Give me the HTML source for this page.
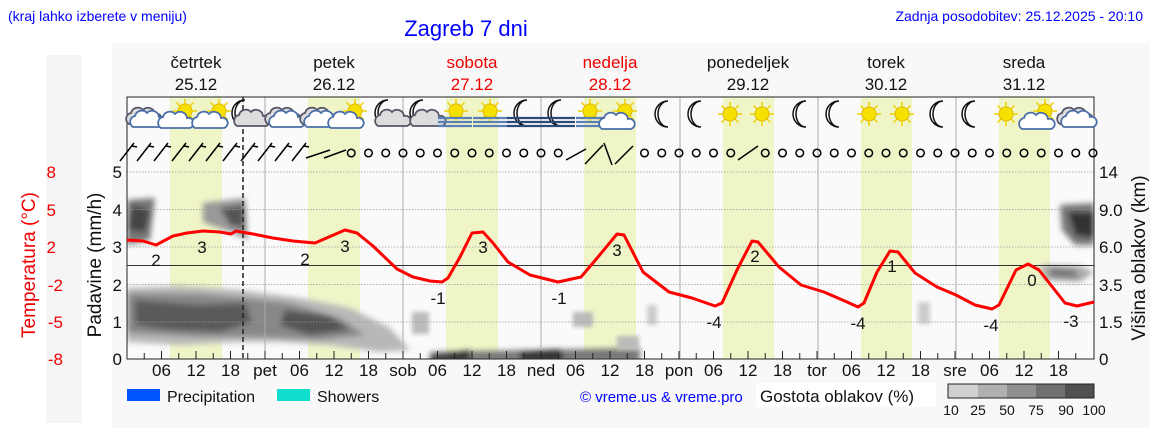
<!DOCTYPE html>
<html><head><meta charset="utf-8"><style>
body{margin:0;background:#fff;}
svg{display:block;font-family:"Liberation Sans","DejaVu Sans",sans-serif;}
</style></head><body>
<svg width="1152" height="443" viewBox="0 0 1152 443" xmlns="http://www.w3.org/2000/svg">
<defs>
<filter id="bl" x="-30%" y="-30%" width="160%" height="160%"><feGaussianBlur stdDeviation="3"/></filter>
<filter id="bl2" x="-30%" y="-30%" width="160%" height="160%"><feGaussianBlur stdDeviation="2"/></filter>
<clipPath id="pc"><rect x="127" y="97" width="967" height="262"/></clipPath>
<g id="sun"><g stroke="#f0d000" stroke-width="1.5"><line x1="-12" y1="0" x2="12" y2="0"/><line x1="0" y1="-12" x2="0" y2="12"/><line x1="-8.5" y1="-8.5" x2="8.5" y2="8.5"/><line x1="-8.5" y1="8.5" x2="8.5" y2="-8.5"/></g><circle r="7" fill="#f5e000" stroke="#e0b800"/></g>
<g id="cl"><path d="M-15,6 a6,6 0 0 1 2,-11 a7,7 0 0 1 12,-3 a7,7 0 0 1 12,4 a5,5 0 0 1 3,10 z" fill="#fff" stroke="#4a6fa8" stroke-width="1.8"/></g>
<g id="gcl"><path d="M-15,6 a6,6 0 0 1 2,-11 a7,7 0 0 1 12,-3 a7,7 0 0 1 12,4 a5,5 0 0 1 3,10 z" fill="#ddd" stroke="#556" stroke-width="1.8"/></g>
<g id="moon"><path d="M3,-13 a13,13 0 1 0 0,26 a10,13 0 0 1 0,-26 z" fill="#fff" stroke="#111" stroke-width="1.5"/></g>
<g id="fog" stroke="#5a7fb5" stroke-width="2.2"><line x1="-17" y1="3" x2="17" y2="3"/><line x1="-17" y1="7" x2="17" y2="7"/><line x1="-17" y1="11" x2="17" y2="11"/></g>
<g id="fogd" stroke="#2a4a78" stroke-width="2.2"><line x1="-17" y1="3" x2="17" y2="3"/><line x1="-17" y1="7" x2="17" y2="7"/><line x1="-17" y1="11" x2="17" y2="11"/></g>
<g id="barb" stroke="#000" stroke-width="1.5" fill="none"><line x1="-7" y1="9" x2="7" y2="-9"/><line x1="5" y1="-6" x2="10" y2="-5"/></g>
</defs>
<rect x="46" y="55" width="36" height="368" fill="#f5f5f5"/>
<rect x="112" y="43" width="1038" height="385" fill="#f8f8f8"/>
<rect x="127" y="97" width="967" height="262" fill="#fafafa"/>
<g fill="#f0f5c8">
<rect x="170" y="97" width="52" height="262"/><rect x="308" y="97" width="52" height="262"/><rect x="446" y="97" width="52" height="262"/><rect x="584" y="97" width="52" height="262"/><rect x="723" y="97" width="51" height="262"/><rect x="861" y="97" width="51" height="262"/><rect x="999" y="97" width="51" height="262"/>
</g>
<g clip-path="url(#pc)">
<g filter="url(#bl)">
<path d="M127,288 L180,286 L240,290 L300,298 L350,308 L390,328 L410,350 L380,352 L330,345 L280,342 L240,342 L180,345 L127,342 Z" fill="#b8b8b8"/>
<path d="M127,293 L200,294 L245,298 L290,303 L340,318 L365,335 L320,340 L260,337 L200,337 L127,333 Z" fill="#888"/>
<path d="M135,300 L200,305 L245,303 L252,322 L220,332 L170,330 L135,325 Z" fill="#5a5a5a"/>
<path d="M285,310 L330,316 L350,330 L310,335 L280,325 Z" fill="#555"/>
<path d="M127,200 L155,198 L150,240 L127,245 Z" fill="#777"/>
<path d="M132,205 L150,210 L145,232 L128,230 Z" fill="#444"/>
<path d="M203,203 L245,198 L248,240 L230,232 L203,222 Z" fill="#999"/>
<path d="M220,208 L244,205 L244,228 L230,225 Z" fill="#555"/>
<path d="M430,352 L640,348 L640,362 L430,362 Z" fill="#777"/>
<path d="M430,356 L470,350 L470,362 L430,362 Z" fill="#333"/>
<path d="M520,352 L560,349 L565,362 L520,362 Z" fill="#333"/>
<path d="M1060,205 L1094,203 L1094,245 L1075,245 L1062,230 Z" fill="#777"/>
<path d="M1068,212 L1094,212 L1094,238 L1075,235 Z" fill="#333"/>
<path d="M1040,265 L1080,266 L1094,272 L1080,282 L1045,280 Z" fill="#aaa"/>
<path d="M1050,268 L1075,270 L1078,278 L1050,277 Z" fill="#777"/>
</g>
<g filter="url(#bl2)" fill="#bbb">
<rect x="412" y="312" width="17" height="22"/><rect x="573" y="312" width="20" height="15"/><rect x="647" y="305" width="10" height="20" fill="#ccc"/><rect x="918" y="302" width="12" height="22" fill="#ccc"/><rect x="617" y="336" width="22" height="14"/>
</g>
</g>
<g stroke="#999" stroke-width="0.8" stroke-dasharray="1.5,1.5">
<line x1="127" y1="172" x2="1094" y2="172"/><line x1="127" y1="209.5" x2="1094" y2="209.5"/><line x1="127" y1="247" x2="1094" y2="247"/><line x1="127" y1="284.5" x2="1094" y2="284.5"/><line x1="127" y1="322" x2="1094" y2="322"/>
</g>
<g stroke="#aaa" stroke-width="1">
<line x1="265" y1="97" x2="265" y2="359"/><line x1="403" y1="97" x2="403" y2="359"/><line x1="541" y1="97" x2="541" y2="359"/><line x1="680" y1="97" x2="680" y2="359"/><line x1="818" y1="97" x2="818" y2="359"/><line x1="956" y1="97" x2="956" y2="359"/>
</g>
<line x1="127" y1="265.5" x2="1094" y2="265.5" stroke="#333" stroke-width="1"/>
<line x1="243" y1="97" x2="243" y2="359" stroke="#222" stroke-width="1.5" stroke-dasharray="5,3"/>
<rect x="127" y="97" width="967" height="262" fill="none" stroke="#222" stroke-width="1"/>
<g stroke="#222" stroke-width="1" id="ticks"></g>
<g>
<use href="#gcl" x="144" y="118"/><use href="#cl" x="148" y="121"/>
<use href="#sun" x="185" y="111"/><use href="#cl" x="176" y="122"/>
<use href="#sun" x="219" y="111"/><use href="#cl" x="210" y="122"/>
<use href="#moon" x="242" y="113"/><use href="#gcl" x="252" y="120"/>
<use href="#gcl" x="283" y="118"/><use href="#cl" x="287" y="121"/>
<use href="#gcl" x="318" y="118"/><use href="#cl" x="322" y="121"/>
<use href="#sun" x="355" y="111"/><use href="#cl" x="346" y="122"/>
<use href="#moon" x="385" y="113"/><use href="#gcl" x="393" y="120"/>
<use href="#moon" x="420" y="113"/><use href="#gcl" x="428" y="120"/>
<use href="#sun" x="456" y="111"/><use href="#fog" x="455" y="115"/>
<use href="#sun" x="490" y="111"/><use href="#fog" x="490" y="115"/>
<use href="#moon" x="524" y="113"/><use href="#fogd" x="524" y="115"/>
<use href="#moon" x="558" y="113"/><use href="#fogd" x="558" y="115"/>
<use href="#sun" x="590" y="111"/><use href="#fog" x="593" y="115"/>
<use href="#sun" x="625" y="111"/><use href="#cl" x="617" y="123"/>
<use href="#moon" x="665" y="114"/><use href="#moon" x="698" y="114"/>
<use href="#sun" x="730" y="114"/><use href="#sun" x="762" y="114"/>
<use href="#moon" x="803" y="114"/><use href="#moon" x="836" y="114"/>
<use href="#sun" x="869" y="114"/><use href="#sun" x="902" y="114"/>
<use href="#moon" x="940" y="114"/><use href="#moon" x="972" y="114"/>
<use href="#sun" x="1006" y="114"/><use href="#sun" x="1045" y="111"/><use href="#cl" x="1037" y="123"/>
<use href="#gcl" x="1075" y="118"/><use href="#cl" x="1079" y="121"/>
</g>
<g>
<use href="#barb" x="127" y="152"/><use href="#barb" x="144" y="152"/><use href="#barb" x="161" y="152"/><use href="#barb" x="179" y="152"/><use href="#barb" x="196" y="152"/><use href="#barb" x="213" y="152"/><use href="#barb" x="230" y="152"/><use href="#barb" x="248" y="152"/><use href="#barb" x="265" y="152"/><use href="#barb" x="282" y="152"/><use href="#barb" x="299" y="152"/>
<g stroke="#000" stroke-width="1.5"><line x1="306" y1="158" x2="330" y2="150"/><line x1="324" y1="158" x2="346" y2="150"/><line x1="566" y1="160" x2="586" y2="149"/><line x1="585" y1="164" x2="603" y2="145"/><line x1="604" y1="143" x2="612" y2="165"/><line x1="615" y1="164" x2="633" y2="146"/><line x1="738" y1="160" x2="758" y2="146"/></g>
<g fill="none" stroke="#000" stroke-width="1.5" id="circs"></g>
</g>
<polyline fill="none" stroke="#f00" stroke-width="3" stroke-linejoin="round" points="127,240 143,241 156,245 173,236 187,233 203,231 220,232 231,234 236,231 253,234 273,238 293,241 315,243 345,230 357,233 373,246 397,269 413,277 430,281 442,282 448,278 460,257 472,233 483,232 493,243 508,262 530,275 558,282 581,277 598,257 617,234 624,235 643,272 669,292 692,298 715,306 722,303 737,270 752,241 758,242 779,267 801,285 824,292 847,302 858,307 864,303 877,272 890,251 898,252 915,273 937,287 956,295 975,305 992,309 999,305 1016,270 1028,264 1039,270 1065,303 1077,306 1094,302"/>
<g font-size="17" fill="#111" text-anchor="middle">
<text x="156" y="266">2</text><text x="202" y="253">3</text><text x="305" y="265">2</text><text x="345" y="252">3</text><text x="438" y="304">-1</text><text x="483" y="253">3</text><text x="559" y="304">-1</text><text x="617" y="256">3</text><text x="714" y="328">-4</text><text x="755" y="262">2</text><text x="858" y="329">-4</text><text x="892" y="272">1</text><text x="991" y="331">-4</text><text x="1032" y="286">0</text><text x="1071" y="327">-3</text>
</g>
<g font-size="17" fill="#111" text-anchor="end">
<text x="122" y="178">5</text><text x="122" y="216">4</text><text x="122" y="253">3</text><text x="122" y="291">2</text><text x="122" y="328">1</text><text x="122" y="365">0</text>
</g>
<g font-size="17" fill="#e00" text-anchor="end">
<text x="56" y="178">8</text><text x="56" y="216">5</text><text x="56" y="253">2</text><text x="63" y="291">-2</text><text x="63" y="328">-5</text><text x="63" y="365">-8</text>
</g>
<text transform="translate(35,265) rotate(-90)" font-size="19" fill="#e00" text-anchor="middle">Temperatura (°C)</text>
<text transform="translate(101,265) rotate(-90)" font-size="19" fill="#111" text-anchor="middle">Padavine (mm/h)</text>
<g font-size="17" fill="#111">
<text x="1099" y="178">14</text><text x="1099" y="216">9.0</text><text x="1099" y="253">6.0</text><text x="1099" y="291">3.5</text><text x="1099" y="328">1.5</text><text x="1099" y="365">0</text>
</g>
<text transform="translate(1145,258) rotate(-90)" font-size="19" fill="#111" text-anchor="middle">Višina oblakov (km)</text>
<g font-size="17" fill="#111" text-anchor="middle" id="bl_"></g>
<text x="8" y="21" font-size="14" fill="#00f">(kraj lahko izberete v meniju)</text>
<text x="466" y="36" font-size="22" fill="#00f" text-anchor="middle">Zagreb 7 dni</text>
<text x="1143" y="21" font-size="14" fill="#00f" text-anchor="end">Zadnja posodobitev: 25.12.2025 - 20:10</text>
<g font-size="17" text-anchor="middle" fill="#111">
<text x="196" y="68">četrtek</text><text x="196" y="90">25.12</text>
<text x="334" y="68">petek</text><text x="334" y="90">26.12</text>
<text x="472" y="68" fill="#e00">sobota</text><text x="472" y="90" fill="#e00">27.12</text>
<text x="610" y="68" fill="#e00">nedelja</text><text x="610" y="90" fill="#e00">28.12</text>
<text x="748" y="68">ponedeljek</text><text x="748" y="90">29.12</text>
<text x="886" y="68">torek</text><text x="886" y="90">30.12</text>
<text x="1024" y="68">sreda</text><text x="1024" y="90">31.12</text>
</g>
<rect x="127" y="389" width="33" height="12" fill="#0055ff"/>
<text x="167" y="402" font-size="16" fill="#111">Precipitation</text>
<rect x="277" y="389" width="33" height="12" fill="#11ddcc"/>
<text x="317" y="402" font-size="16" fill="#111">Showers</text>
<text x="580" y="402" font-size="15" fill="#00f">© vreme.us &amp; vreme.pro</text>
<rect x="756" y="383" width="180" height="24" fill="#fff"/>
<text x="760" y="402" font-size="17" fill="#111">Gostota oblakov (%)</text>
<rect x="948" y="384" width="30" height="14" fill="#d0d0d0"/><rect x="978" y="384" width="29" height="14" fill="#b0b0b0"/><rect x="1007" y="384" width="29" height="14" fill="#909090"/><rect x="1036" y="384" width="29" height="14" fill="#707070"/><rect x="1065" y="384" width="29" height="14" fill="#505050"/>
<rect x="948" y="384" width="146" height="14" fill="none" stroke="#222"/>
<g font-size="14" fill="#111" text-anchor="middle"><text x="951" y="415">10</text><text x="978" y="415">25</text><text x="1007" y="415">50</text><text x="1036" y="415">75</text><text x="1066" y="415">90</text><text x="1094" y="415">100</text></g>
<script>
var ns="http://www.w3.org/2000/svg";
var t=document.getElementById("ticks"),c=document.getElementById("circs"),b=document.getElementById("bl_");
var days=["","pet","sob","ned","pon","tor","sre"];
for(var k=0;k<=56;k++){var x=127+k*17.25;
 if(k>0&&k<56){var l=document.createElementNS(ns,"line");l.setAttribute("x1",x);l.setAttribute("x2",x);l.setAttribute("y1",359);l.setAttribute("y2",k%2?353:351);t.appendChild(l);}
 var isB=(k<=12)||(k>=26&&k<=29)||k==36;
 if(!isB){var ci=document.createElementNS(ns,"circle");ci.setAttribute("cx",x);ci.setAttribute("cy",153);ci.setAttribute("r",3.8);c.appendChild(ci);}
 if(k<56&&k%2==0){var h=(k*3)%24,s="";if(h==0)s=days[k/8];else if(h==6)s="06";else if(h==12)s="12";else if(h==18)s="18";
  if(s){var tx=document.createElementNS(ns,"text");tx.setAttribute("x",x);tx.setAttribute("y",376);tx.textContent=s;b.appendChild(tx);}}
}
</script>
</svg>
</body></html>
